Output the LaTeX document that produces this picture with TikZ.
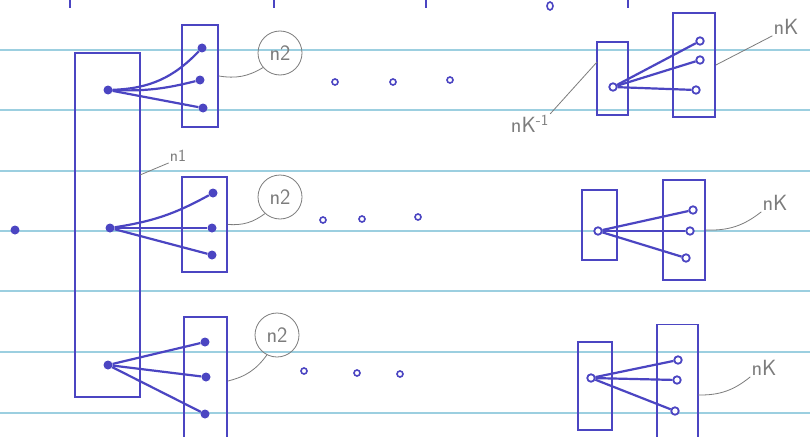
\documentclass[tikz,border=0pt]{standalone}
\usepackage{tikz}
\usetikzlibrary{positioning}
\definecolor{ink}{HTML}{4B45C2}
\definecolor{rule}{HTML}{9CCFE0}
\definecolor{pencil}{HTML}{7C7C7C}

\begin{document}
\begin{tikzpicture}[x=1pt,y=-1pt,
  box/.style={draw=ink,line width=1.8pt,inner sep=0pt},
  dot/.style={circle,fill=ink,inner sep=0pt,minimum size=9pt},
  odot/.style={circle,draw=ink,line width=1.8pt,fill=white,inner sep=0pt,minimum size=7.5pt},
  edot/.style={circle,draw=ink,line width=1.6pt,inner sep=0pt,minimum size=6pt},
  wire/.style={ink,line width=2.2pt},
  lead/.style={pencil,line width=0.8pt},
  lbl/.style={pencil,inner sep=1pt,font=\sffamily\fontsize{22}{24}\selectfont},
  ring/.style={lbl,circle,draw=pencil,line width=0.8pt,inner sep=0pt,minimum size=44pt}
]
\useasboundingbox[fill=white] (0,0) rectangle (810,436);
% ruled paper
\foreach \y in {50,110,171,231,291,352,413}
  \draw[rule,line width=1.1pt] (0,\y) -- (810,\y);
% cut-off writing at the top edge
\foreach \x in {70,274,426,628}
  \draw[ink,line width=1.4pt] (\x,0) -- (\x,8);
\draw[ink,line width=1.6pt] (550,6) ellipse (3pt and 4pt);

% root and n1
\node[dot] (root) at (15,230) {};
\node[box,minimum width=65,minimum height=344] (n1box) at (107.5,225) {};
\node[lbl,font=\sffamily\fontsize{17}{19}\selectfont] (n1lab) at (178,156) {n1};
\coordinate (n1tick) at (140,175);
\draw[lead] (n1tick) -- (n1lab.south west);

% left column: three n2 groups
\node[dot] (s1) at (108,90) {};
\node[box,minimum width=36,minimum height=102] (b1) at (200,76) {};
\node[dot] (t1a) at (202,48) {};
\node[dot] (t1b) at (200,80) {};
\node[dot] (t1c) at (203,108) {};
\node[ring] (r1) at (280,53) {n2};

\node[dot] (s2) at (110,228) {};
\node[box,minimum width=45,minimum height=95] (b2) at (204.5,224.5) {};
\node[dot] (t2a) at (213,193) {};
\node[dot] (t2b) at (212,228) {};
\node[dot] (t2c) at (212,255) {};
\node[ring] (r2) at (280,197) {n2};

\node[dot] (s3) at (108,365) {};
\node[box,minimum width=43,minimum height=128] (b3) at (205.5,381) {};
\node[dot] (t3a) at (205,342) {};
\node[dot] (t3b) at (206,377) {};
\node[dot] (t3c) at (205,414) {};
\node[ring] (r3) at (277,335) {n2};

\draw[wire] (s1) to[bend right=22] (t1a);
\draw[wire] (s1) to[bend right=8] (t1b);
\draw[wire] (s1) -- (t1c);
\draw[wire] (s2) to[bend right=10] (t2a);
\draw[wire] (s2) -- (t2b);
\draw[wire] (s2) -- (t2c);
\draw[wire] (s3) -- (t3a);
\draw[wire] (s3) -- (t3b);
\draw[wire] (s3) -- (t3c);

\draw[lead] (b1.east) to[bend right=20] (r1);
\draw[lead] (b2.east) to[bend right=20] (r2);
\draw[lead] (b3.east) to[bend right=20] (r3);

% ellipsis dots
\node[edot] (e1a) at (335,82) {};
\node[edot] (e1b) at (393,82) {};
\node[edot] (e1c) at (450,80) {};
\node[edot] (e2a) at (323,220) {};
\node[edot] (e2b) at (362,219) {};
\node[edot] (e2c) at (418,217) {};
\node[edot] (e3a) at (304,371) {};
\node[edot] (e3b) at (357,373) {};
\node[edot] (e3c) at (400,374) {};

% right column: nK-1 -> nK
\node[box,minimum width=31,minimum height=73] (p1) at (612.5,78.5) {};
\node[box,minimum width=42,minimum height=104] (q1) at (694,65) {};
\node[odot] (u1) at (613,87) {};
\node[odot] (v1a) at (700,41) {};
\node[odot] (v1b) at (700,60) {};
\node[odot] (v1c) at (696,90) {};
\draw[wire] (u1) -- (v1a);
\draw[wire] (u1) -- (v1b);
\draw[wire] (u1) -- (v1c);
\node[lbl] (k1lab) at (530,124) {nK\textsuperscript{-1}};
\coordinate (p1tick) at (597,62);
\draw[lead] (p1tick) -- (k1lab.north east);
\node[lbl] (q1lab) at (786,27) {nK};
\draw[lead] (q1.east) -- (q1lab.south west);

\node[box,minimum width=35,minimum height=70] (p2) at (599.5,225) {};
\node[box,minimum width=42,minimum height=100] (q2) at (684,230) {};
\node[odot] (u2) at (598,231) {};
\node[odot] (v2a) at (693,210) {};
\node[odot] (v2b) at (690,231) {};
\node[odot] (v2c) at (686,258) {};
\draw[wire] (u2) -- (v2a);
\draw[wire] (u2) -- (v2b);
\draw[wire] (u2) -- (v2c);
\node[lbl] (q2lab) at (775,203) {nK};
\draw[lead] (q2.east) to[bend right=20] (q2lab.south west);

\node[box,minimum width=34,minimum height=88] (p3) at (595,386) {};
\node[box,minimum width=41,minimum height=115] (q3) at (677.5,382) {};
\node[odot] (u3) at (591,378) {};
\node[odot] (v3a) at (678,360) {};
\node[odot] (v3b) at (677,380) {};
\node[odot] (v3c) at (675,411) {};
\draw[wire] (u3) -- (v3a);
\draw[wire] (u3) -- (v3b);
\draw[wire] (u3) -- (v3c);
\node[lbl] (q3lab) at (764,368) {nK};
\coordinate (q3tick) at (698,395);
\draw[lead] (q3tick) to[bend right=20] (q3lab.south west);
\end{tikzpicture}
\end{document}
